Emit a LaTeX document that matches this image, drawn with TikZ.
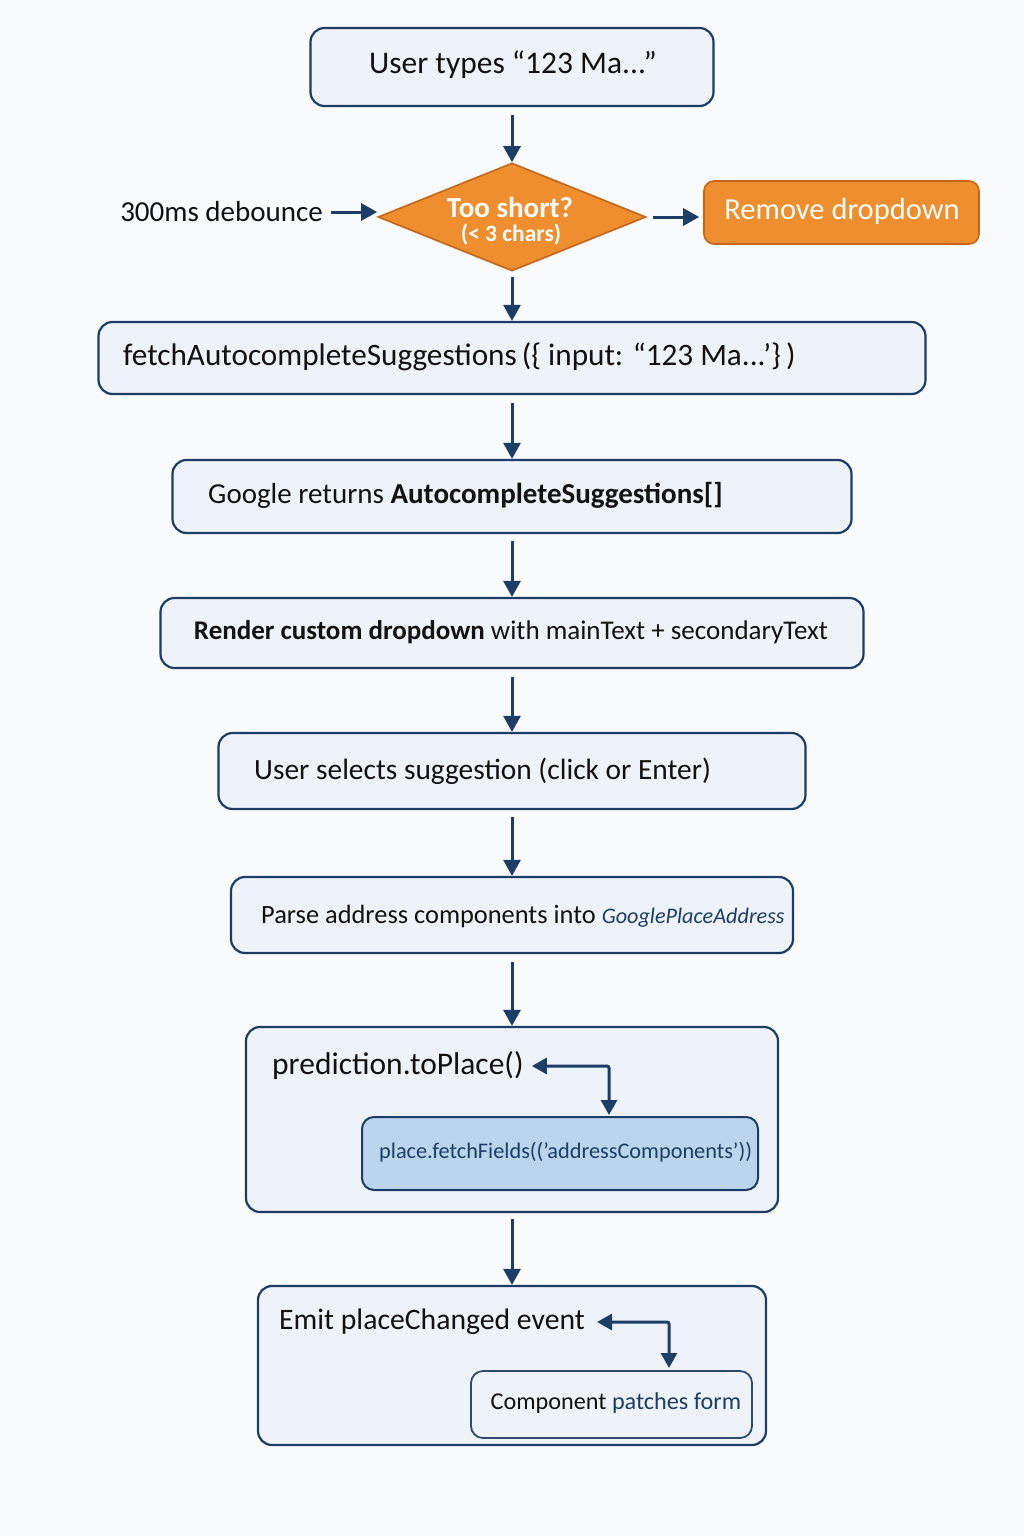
\documentclass[tikz,border=0pt]{standalone}
\usepackage{fontspec}
\setmainfont{Carlito}
\usetikzlibrary{arrows.meta,shapes.geometric}
\definecolor{navy}{HTML}{1B3D66}
\definecolor{boxfill}{HTML}{EEF3F9}
\definecolor{orangef}{HTML}{EF8E2E}
\definecolor{oranged}{HTML}{C2661B}
\definecolor{innerfill}{HTML}{BCD5EE}
\definecolor{ink}{HTML}{111111}
\definecolor{bg}{HTML}{FAFBFD}
\begin{document}
\begin{tikzpicture}[x=1pt,y=-1pt,
  box/.style={draw=navy, line width=2.2pt, fill=boxfill, rounded corners=14pt, inner sep=0pt},
  obox/.style={draw=oranged, line width=1.6pt, fill=orangef, rounded corners=10pt, inner sep=0pt},
  ibox/.style={draw=navy, line width=2pt, fill=innerfill, rounded corners=12pt, inner sep=0pt},
  pbox/.style={draw=navy!80!gray, line width=1.8pt, fill=boxfill, rounded corners=12pt, inner sep=0pt},
  txt/.style={text=ink, inner sep=2pt, font=\fontsize{27}{32}\selectfont},
  arr/.style={draw=navy, line width=3pt, -{Triangle[length=16pt,width=17pt]}},
  darr/.style={draw=navy, line width=3pt, {Triangle[length=15pt,width=16pt]}-{Triangle[length=15pt,width=16pt]}},
]
\useasboundingbox (0,0) rectangle (1024,1536);
\fill[bg] (0,0) rectangle (1024,1536);

% top box
\node[box, minimum width=403pt, minimum height=78pt] (b1) at (512,67) {};
\node[txt, font=\fontsize{31.5}{36}\selectfont] (t1) at (513,65) {User types “123 Ma...”};

% diamond
\node[diamond, aspect=2.48, draw=oranged, fill=orangef, line width=1.6pt, minimum width=268pt, minimum height=108pt, inner sep=0pt] (d) at (512,217) {};
\node[text=white, inner sep=0pt, font=\fontsize{29}{32}\selectfont\bfseries] (dt1) at (510,207) {Too short?};
\node[text=white, inner sep=0pt, font=\fontsize{23.5}{26}\selectfont\bfseries] (dt2) at (511,235) {(< 3 chars)};

\node[txt, anchor=east, font=\fontsize{29}{34}\selectfont] (deb) at (325,212) {300ms debounce};

\node[obox, minimum width=275pt, minimum height=63pt] (rm) at (841.5,212.5) {};
\node[text=white, inner sep=0pt, font=\fontsize{30.5}{34}\selectfont] (rmt) at (842,211) {Remove dropdown};

% fetch
\node[box, minimum width=827pt, minimum height=72pt] (b2) at (512,358) {};
\node[txt, anchor=west, font=\fontsize{31.2}{36}\selectfont] (t2) at (121,357) {fetchAutocompleteSuggestions\,(\{ input: “123 Ma...’\}\,)};

% google
\node[box, minimum width=679pt, minimum height=73pt] (b3) at (512,496.5) {};
\node[txt, anchor=west, font=\fontsize{29}{34}\selectfont] (t3) at (206,495) {Google returns \textbf{AutocompleteSuggestions[]}};

% render
\node[box, minimum width=703pt, minimum height=70pt] (b4) at (512,633) {};
\node[txt] (t4) at (511,632) {\textbf{Render custom dropdown} with mainText + secondaryText};

% user selects
\node[box, minimum width=587pt, minimum height=76pt] (b5) at (512,771) {};
\node[txt, anchor=west, font=\fontsize{29.4}{34}\selectfont] (t5) at (252,771) {User selects suggestion (click or Enter)};

% parse
\node[box, minimum width=562pt, minimum height=76pt] (b6) at (512,915) {};
\node[txt, anchor=west, font=\fontsize{26.4}{31}\selectfont] (t6) at (259,916) {Parse address components into {\color{navy}\itshape\fontsize{22.2}{28}\selectfont GooglePlaceAddress}};

% prediction
\node[box, minimum width=532pt, minimum height=185pt] (b7) at (512,1119.5) {};
\node[txt, anchor=west, font=\fontsize{31.5}{36}\selectfont] (t7) at (270,1066) {prediction.toPlace()};
\node[ibox, minimum width=396pt, minimum height=73pt] (ff) at (560,1153.5) {};
\node[txt, anchor=west, text=navy, font=\fontsize{22.3}{26}\selectfont] (t8) at (377,1152) {place.fetchFields(('addressComponents'))};
\coordinate (c1) at (609,1117);

% emit
\node[box, minimum width=508pt, minimum height=159pt] (b8) at (512,1365.5) {};
\node[txt, anchor=west, font=\fontsize{29.7}{34}\selectfont] (t9) at (277,1322) {Emit placeChanged event};
\node[pbox, minimum width=281pt, minimum height=67pt] (pf) at (611.5,1404.5) {};
\node[txt, font=\fontsize{24.2}{29}\selectfont] (t10) at (616,1403) {Component {\color{navy}patches form}};
\coordinate (c2) at (669,1370);

% arrows
\draw[arr, shorten <=8pt] (b1.south) -- (d.north);
\draw[arr, shorten <=5pt] (d.south) -- (b2.north);
\draw[arr, shorten <=6pt] (deb.east) -- (deb.east -| d.west);
\draw[arr, shorten <=6pt, shorten >=4pt] (d.east) -- (d.east -| rm.west);
\draw[arr, shorten <=8pt] (b2.south) -- (b3.north);
\draw[arr, shorten <=7pt] (b3.south) -- (b4.north);
\draw[arr, shorten <=8pt] (b4.south) -- (b5.north);
\draw[arr, shorten <=7pt] (b5.south) -- (b6.north);
\draw[arr, shorten <=8pt] (b6.south) -- (b7.north);
\draw[arr, shorten <=6pt] (b7.south) -- (b8.north);
\draw[darr, shorten <=6pt, shorten >=2pt, rounded corners=2pt] (t7.east) -| (c1);
\draw[darr, shorten <=10pt, shorten >=2pt, rounded corners=2pt] (t9.east) -| (c2);
\end{tikzpicture}
\end{document}
